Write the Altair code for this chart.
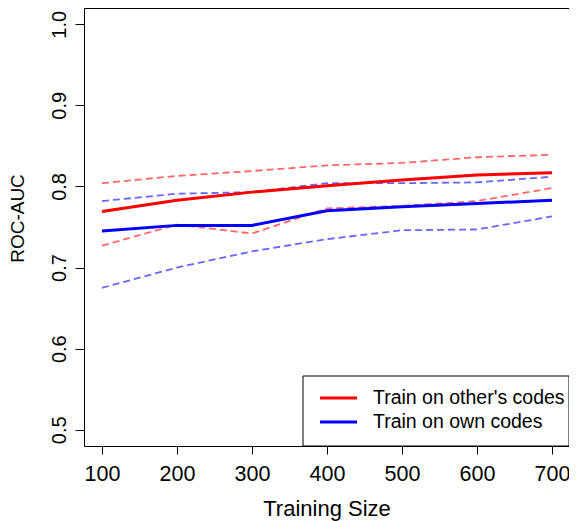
import altair as alt
import pandas as pd

sizes = [100, 200, 300, 400, 500, 600, 700]
series_names = ["Train on other's codes", "Train on own codes"]
other_mean = [0.769, 0.783, 0.793, 0.801, 0.808, 0.814, 0.817]
other_upper = [0.804, 0.813, 0.819, 0.826, 0.829, 0.836, 0.839]
other_lower = [0.727, 0.753, 0.742, 0.773, 0.776, 0.782, 0.798]
own_mean = [0.745, 0.752, 0.752, 0.770, 0.775, 0.779, 0.783]
own_upper = [0.782, 0.791, 0.793, 0.804, 0.804, 0.805, 0.812]
own_lower = [0.675, 0.700, 0.720, 0.735, 0.746, 0.747, 0.763]
colors = ["#FF0000", "#0000FF"]
y_ticks = [0.5, 0.6, 0.7, 0.8, 0.9, 1.0]
x_ticks = sizes

rows = []
for name, mean, up, lo in [
    (series_names[0], other_mean, other_upper, other_lower),
    (series_names[1], own_mean, own_upper, own_lower),
]:
    for i, s in enumerate(sizes):
        rows.append({"group": name, "kind": "mean", "band": name + "|mean", "size": s, "auc": mean[i]})
        rows.append({"group": name, "kind": "bound", "band": name + "|upper", "size": s, "auc": up[i]})
        rows.append({"group": name, "kind": "bound", "band": name + "|lower", "size": s, "auc": lo[i]})
df = pd.DataFrame(rows)

FONT = "Liberation Sans"
W, H = 485, 438

xscale = alt.Scale(domain=[76, 722.7], nice=False, zero=False)
yscale = alt.Scale(domain=[0.48, 1.02], nice=False, zero=False)
cscale = alt.Scale(domain=series_names, range=colors)

x_enc = alt.X("size:Q", scale=xscale,
              axis=alt.Axis(values=x_ticks, title="Training Size", grid=False, domain=False,
                            tickColor="black", tickSize=8, tickWidth=1,
                            labelFont=FONT, labelFontSize=21.5, labelColor="black", labelPadding=9,
                            titleFont=FONT, titleFontSize=22, titleFontWeight="normal",
                            titleColor="black", titlePadding=14, labelFlush=False))
y_enc = alt.Y("auc:Q", scale=yscale,
              axis=alt.Axis(values=y_ticks, format=".1f", title="ROC-AUC", grid=False, domain=False,
                            tickColor="black", tickSize=9, tickWidth=1,
                            labelFont=FONT, labelFontSize=20, labelColor="black", labelPadding=16,
                            labelAngle=270, labelAlign="center", labelBaseline="middle",
                            titleFont=FONT, titleFontSize=19, titleFontWeight="normal",
                            titleColor="black", titlePadding=22, titleY=210, labelFlush=False))

bounds = alt.Chart(df).transform_filter(alt.datum.kind == "bound").mark_line(
    strokeWidth=1.8, strokeDash=[7, 4], opacity=0.6
).encode(
    x=x_enc, y=y_enc,
    color=alt.Color("group:N", scale=cscale, legend=None),
    detail="band:N",
)

means = alt.Chart(df).transform_filter(alt.datum.kind == "mean").mark_line(
    strokeWidth=3
).encode(
    x=x_enc, y=y_enc,
    color=alt.Color("group:N", scale=cscale, legend=None),
    detail="band:N",
)

# manual legend (bottom-right box like R's legend())
leg_df = pd.DataFrame({"label": series_names, "color": colors})
box = alt.Chart(leg_df.head(1)).mark_rect(fill="white", stroke="black", strokeWidth=1).encode(
    x=alt.value(219), x2=alt.value(W), y=alt.value(368), y2=alt.value(H)
)
leg_layers = [box]
row_y = [390, 414]
for i in range(len(series_names)):
    d = leg_df.iloc[[i]]
    leg_layers.append(
        alt.Chart(d).mark_rule(strokeWidth=3, color=colors[i]).encode(
            x=alt.value(236), x2=alt.value(273), y=alt.value(row_y[i])
        )
    )
    leg_layers.append(
        alt.Chart(d).mark_text(align="left", baseline="middle", font=FONT, fontSize=19.5,
                               color="black").encode(
            x=alt.value(289), y=alt.value(row_y[i]), text="label:N"
        )
    )

chart = alt.layer(bounds, means, *leg_layers).properties(
    width=W, height=H,
    autosize=alt.AutoSizeParams(type="none"),
    padding={"left": 76, "top": 0, "right": 0, "bottom": 75},
    background="white",
).configure_view(stroke="black", strokeWidth=1)

chart.save("out.html", embed_options={"renderer": "svg", "actions": False})
